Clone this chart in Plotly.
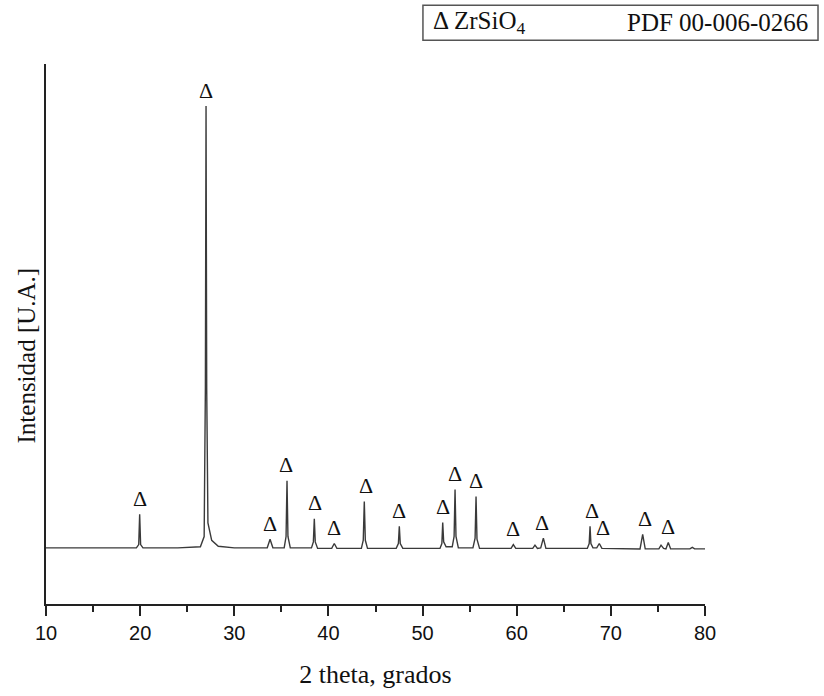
import plotly.graph_objects as go

# Diffraction pattern points (2θ in degrees, intensity in a.u.)
two_theta = [
    10.0, 15.0, 19.6, 19.85, 19.95, 20.05, 20.3,
    24.0, 26.4, 26.8, 26.93, 27.0, 27.07, 27.2, 27.6, 28.3, 30.0,
    33.5, 33.8, 34.1, 35.3, 35.5, 35.6, 35.7, 35.95,
    38.2, 38.4, 38.5, 38.6, 38.85, 40.35, 40.62, 40.9,
    43.5, 43.7, 43.81, 43.92, 44.15, 47.2, 47.43, 47.53, 47.63, 47.9,
    51.85, 52.05, 52.14, 52.24, 52.5, 53.15, 53.35, 53.45, 53.55, 53.8,
    55.35, 55.58, 55.68, 55.78, 56.05, 59.4, 59.64, 59.9,
    61.7, 61.94, 62.2, 62.55, 62.83, 63.1,
    67.5, 67.7, 67.79, 67.88, 68.1, 68.5, 68.77, 69.05,
    73.1, 73.38, 73.65, 75.1, 75.33, 75.6, 75.85, 76.1, 76.35,
    78.4, 78.65, 78.9, 80.0,
]
intensity = [
    104, 104, 104, 110, 166, 110, 104,
    104, 106, 125, 400, 922, 400, 150, 118, 107, 104,
    104, 120, 104, 104, 125, 228, 125, 104,
    104, 115, 158, 115, 103, 103, 112, 103,
    103, 118, 190, 118, 103, 103, 112, 144, 112, 103,
    103, 112, 151, 115, 106, 106, 125, 212, 125, 104,
    104, 122, 199, 120, 103, 103, 110, 103,
    103, 109, 103, 104, 122, 103,
    103, 112, 144, 112, 104, 104, 112, 103,
    102, 129, 102, 102, 109, 103, 102, 114, 102,
    102, 105, 102, 102,
]

# Reflections marked with a triangle (ZrSiO4, PDF 00-006-0266)
mark_height = [166, 922, 120, 228, 158, 112, 190, 144, 151,
               212, 199, 110, 122, 144, 112, 129, 114]
mark_label_theta = [19.95, 27.0, 33.8, 35.45, 38.6, 40.62, 43.95, 47.53, 52.14,
                    53.45, 55.68, 59.64, 62.7, 67.95, 69.2, 73.6, 76.05]

x_ticks = [10, 20, 30, 40, 50, 60, 70, 80]

fig = go.Figure()
fig.add_trace(go.Scatter(
    x=two_theta, y=intensity, mode="lines",
    line=dict(color="#3a3a3a", width=1.4),
    hoverinfo="x+y", showlegend=False,
))

for xl, h in zip(mark_label_theta, mark_height):
    fig.add_annotation(
        x=xl, y=h, xref="x", yref="y", text="Δ", showarrow=False,
        yanchor="middle", yshift=16,
        font=dict(family="Liberation Serif", size=22, color="#111"),
    )

# Phase legend box
fig.add_shape(type="rect", xref="paper", yref="paper",
              x0=0.572, x1=1.1715, y0=1.0442, y1=1.1087,
              line=dict(color="#555", width=1.5), fillcolor="white")
fig.add_annotation(xref="paper", yref="paper", x=0.584, y=1.077,
                   xanchor="left", yanchor="middle", showarrow=False,
                   text="Δ ZrSiO<sub>4</sub>",
                   font=dict(family="Liberation Serif", size=25, color="#111"))
fig.add_annotation(xref="paper", yref="paper", x=1.16, y=1.077,
                   xanchor="right", yanchor="middle", showarrow=False,
                   text="PDF 00-006-0266",
                   font=dict(family="Liberation Serif", size=25, color="#111"))

# Y-axis title (placed as a rotated annotation so it sits like the original)
fig.add_annotation(xref="paper", yref="paper", x=-0.029, y=0.46,
                   xanchor="center", yanchor="middle", showarrow=False,
                   textangle=-90, text="Intensidad [U.A.]",
                   font=dict(family="Liberation Serif", size=25, color="#111"))

fig.update_layout(
    width=824, height=696,
    margin=dict(l=46, r=119, t=64, b=89),
    paper_bgcolor="white", plot_bgcolor="white",
    xaxis=dict(
        range=[10, 80], tickvals=x_ticks, ticks="outside", ticklen=10,
        tickwidth=2, tickcolor="#222", showline=True, linecolor="#222",
        linewidth=2, showgrid=False, zeroline=False,
        tickfont=dict(family="Liberation Sans", size=20, color="#111"),
        minor=dict(dtick=5, tick0=15, ticks="outside", ticklen=6, tickwidth=2,
                   tickcolor="#222", showgrid=False),
        title=dict(text="2 theta, grados", standoff=22,
                   font=dict(family="Liberation Serif", size=26, color="#111")),
    ),
    yaxis=dict(
        range=[0, 1000], showticklabels=False, ticks="", showline=True,
        linecolor="#222", linewidth=2, showgrid=False, zeroline=False,
    ),
)

fig.write_html("out.html")
